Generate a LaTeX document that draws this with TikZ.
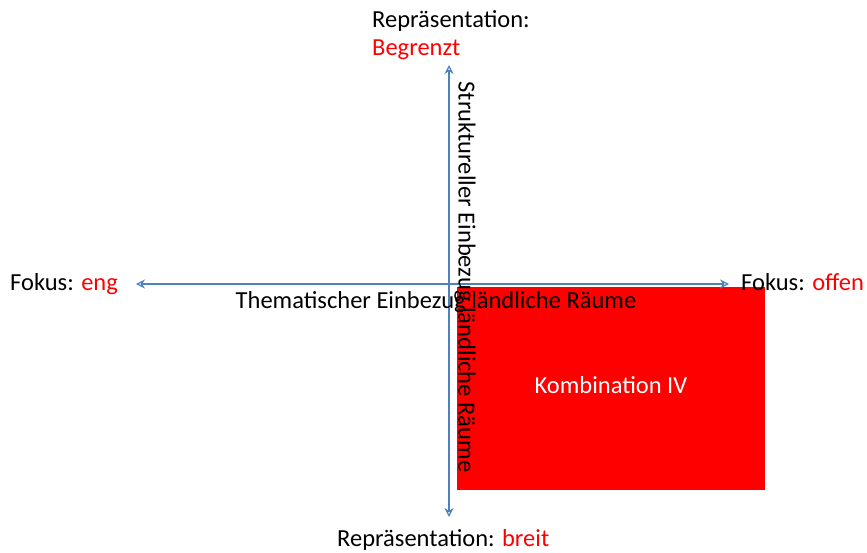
\documentclass[tikz,border=0pt]{standalone}
\usepackage{fontspec}
\setmainfont{Carlito}
\usetikzlibrary{arrows.meta}
\definecolor{axisblue}{HTML}{4F81BD}
\definecolor{pured}{HTML}{FF0000}
\begin{document}
\begin{tikzpicture}[x=1pt,y=-1pt,
  lbl/.style={inner sep=0pt,font=\fontsize{24.5}{28}\selectfont},
  axis/.style={draw=axisblue,line width=1.2pt,{Stealth[open,length=9pt,width=9pt]}-{Stealth[open,length=9pt,width=9pt]}}]
\useasboundingbox (0,0) rectangle (867,552);
\node[fill=pured,minimum width=308pt,minimum height=203pt,inner sep=0pt] (box) at (611,388.5) {};
\node[lbl,text=white] (komb) at (611,385) {Kombination IV};
\coordinate (top) at (449,65);
\coordinate (bot) at (449,517);
\coordinate (left) at (136,284);
\coordinate (right) at (729,284);
\draw[axis] (bot) -- (top);
\draw[axis] (left) -- (right);
\node[lbl,anchor=base] (them) at (436,308) {Thematischer Einbezug ländliche Räume};
\node[lbl,rotate=-90] (struk) at (465,277) {Struktureller Einbezug ländliche Räume};
\node[lbl,anchor=base west] (rep1) at (372,27) {Repräsentation:};
\node[lbl,anchor=base west,text=pured] (begr) at (372,55) {Begrenzt};
\node[lbl,anchor=base west] (eng) at (10,290) {Fokus: \textcolor{pured}{eng}};
\node[lbl,anchor=base west] (offen) at (741,290) {Fokus: \textcolor{pured}{offen}};
\node[lbl,anchor=base west] (breit) at (337,546) {Repräsentation: \textcolor{pured}{breit}};
\end{tikzpicture}
\end{document}
